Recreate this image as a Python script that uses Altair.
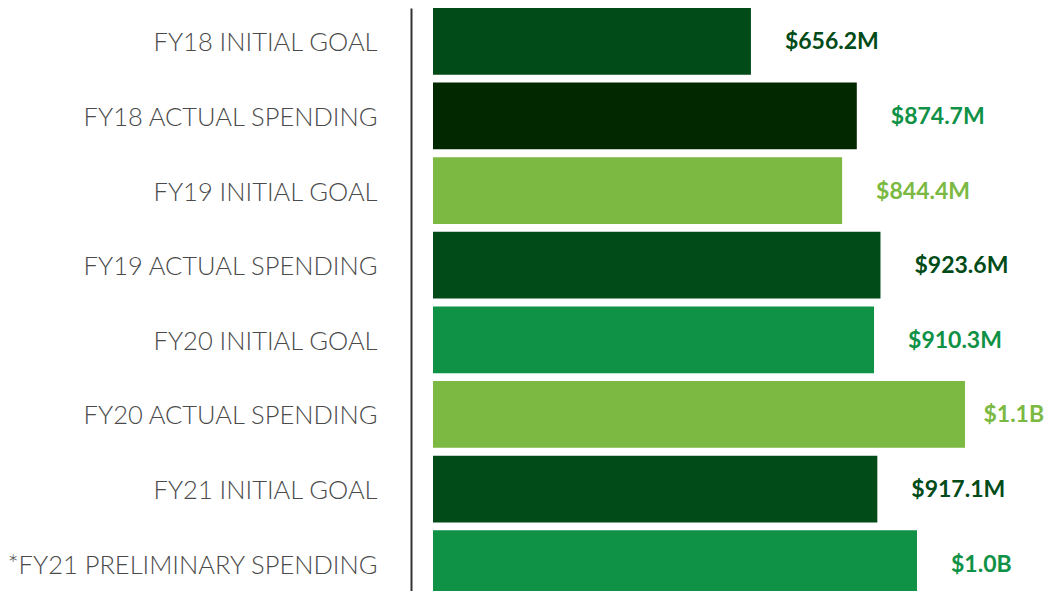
import altair as alt
import pandas as pd

categories = [
    "FY18 INITIAL GOAL",
    "FY18 ACTUAL SPENDING",
    "FY19 INITIAL GOAL",
    "FY19 ACTUAL SPENDING",
    "FY20 INITIAL GOAL",
    "FY20 ACTUAL SPENDING",
    "FY21 INITIAL GOAL",
    "*FY21 PRELIMINARY SPENDING",
]
values_m = [656.2, 874.7, 844.4, 923.6, 910.3, 1098.0, 917.1, 999.0]
value_labels = ["$656.2M", "$874.7M", "$844.4M", "$923.6M", "$910.3M", "$1.1B", "$917.1M", "$1.0B"]
bar_colors = ["#014b18", "#022800", "#7bb942", "#014b18", "#0f9146", "#7bb942", "#014b18", "#0f9146"]
label_colors = ["#014b18", "#0f9146", "#7bb942", "#014b18", "#0f9146", "#7bb942", "#014b18", "#0f9146"]

df = pd.DataFrame({
    "category": categories,
    "value": values_m,
    "label": value_labels,
    "bar_color": bar_colors,
    "label_color": label_colors,
})

W = 611
H = 583
x_max = W / 0.4845

x_scale = alt.Scale(domain=[0, x_max], nice=False, zero=True)
y_scale = alt.Scale(paddingInner=0.107, paddingOuter=0, range=[0, 589])

y_axis = alt.Axis(
    title=None,
    domain=True,
    domainColor="#333333",
    domainWidth=2,
    ticks=False,
    grid=False,
    offset=22,
    labelPadding=34,
    labelFont="Lato",
    labelFontSize=25.5,
    labelColor="#4a4a4a",
    labelFontWeight=300,
    labelOffset=2,
    labelLimit=420,
)
y_enc = alt.Y("category:N", sort=categories, scale=y_scale, axis=y_axis)

bars = alt.Chart(df).mark_bar().encode(
    x=alt.X("value:Q", scale=x_scale, axis=None),
    y=y_enc,
    color=alt.Color("bar_color:N", scale=None),
)

# keep the value label inside the chart for the longest bar
texts = alt.Chart(df).transform_calculate(
    label_x="min(datum.value, 1066)"
).mark_text(
    align="left", baseline="middle", dx=34, dy=1,
    font="Lato", fontSize=23, fontWeight="bold",
).encode(
    x=alt.X("label_x:Q", scale=x_scale, axis=None),
    y=y_enc,
    text="label:N",
    color=alt.Color("label_color:N", scale=None),
)

chart = (bars + texts).properties(
    width=W,
    height=H,
    background="white",
    autosize=alt.AutoSizeParams(type="none"),
    padding={"left": 425, "top": 0, "right": 0, "bottom": 0},
).configure_view(strokeWidth=0, stroke="transparent")

chart.save("out.html", embed_options={"renderer": "svg", "actions": False})
